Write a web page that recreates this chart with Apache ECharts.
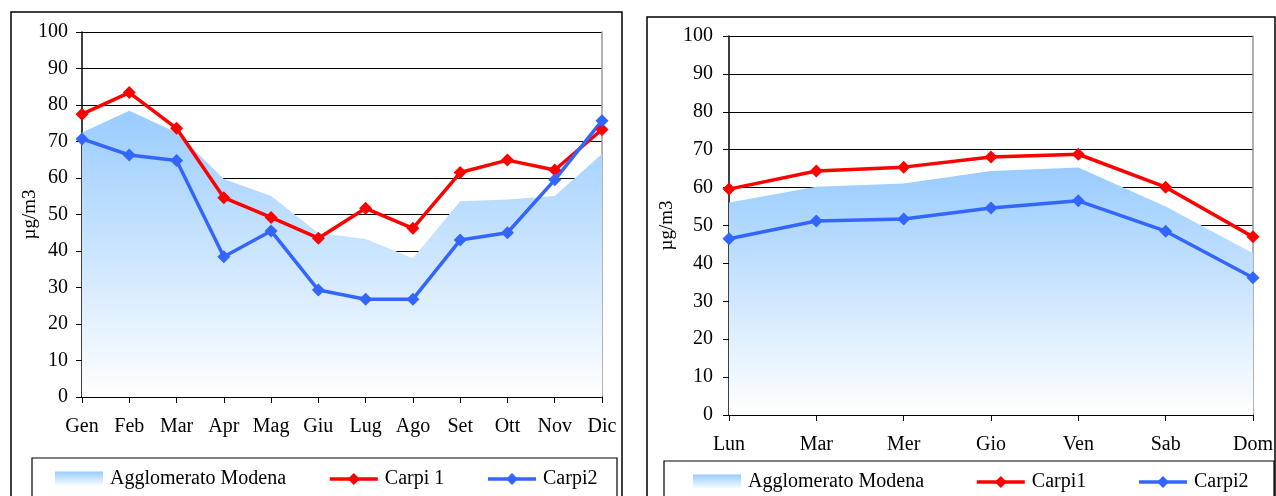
<!DOCTYPE html>
<html>
<head>
<meta charset="utf-8">
<script src="https://cdn.jsdelivr.net/npm/echarts@6/dist/echarts.min.js"></script>
<style>
html,body{margin:0;padding:0;background:#fff;}
#c{width:1276px;height:496px;}
</style>
</head>
<body>
<div id="c"></div>
<script>
// ---- data ----
const months = ['Gen','Feb','Mar','Apr','Mag','Giu','Lug','Ago','Set','Ott','Nov','Dic'];
const monthAgglo = [72.5, 78.4, 72.5, 59.7, 55.1, 44.9, 43.3, 38.0, 53.6, 54.1, 55.1, 66.6];
const monthCarpi1 = [77.5, 83.4, 73.6, 54.6, 49.2, 43.5, 51.7, 46.2, 61.5, 64.9, 62.2, 73.3];
const monthCarpi2 = [70.7, 66.3, 64.8, 38.4, 45.5, 29.3, 26.8, 26.8, 43.0, 45.0, 59.5, 75.7];

const days = ['Lun','Mar','Mer','Gio','Ven','Sab','Dom'];
const dayAgglo = [56.1, 60.2, 61.1, 64.4, 65.3, 55.0, 42.7];
const dayCarpi1 = [59.6, 64.4, 65.4, 68.1, 68.8, 60.1, 47.0];
const dayCarpi2 = [46.5, 51.2, 51.7, 54.6, 56.5, 48.5, 36.2];

const yTicks = {min: 0, max: 100, interval: 10};
const yTitle = 'µg/m3';
const legendLeft = ['Agglomerato Modena', 'Carpi 1', 'Carpi2'];
const legendRight = ['Agglomerato Modena', 'Carpi1', 'Carpi2'];

// ---- styles ----
const FONT = 'Liberation Serif';
const RED = '#FF0000', BLUE = '#3366FF';
const areaGrad = () => new echarts.graphic.LinearGradient(0, 0, 0, 1, [
  {offset: 0, color: '#99CCFF'}, {offset: 1, color: '#FFFFFF'}
]);

function xAx(gi, cats, margin) {
  return {
    type: 'category', gridIndex: gi, data: cats, boundaryGap: false,
    axisLine: {lineStyle: {color: '#000', width: 1.5}},
    axisTick: {show: true, length: 6, lineStyle: {color: '#000'}},
    axisLabel: {color: '#000', fontFamily: FONT, fontSize: 20, margin: margin, interval: 0},
    splitLine: {show: false}
  };
}
function yAx(gi, margin, nameGap) {
  return {
    type: 'value', gridIndex: gi, min: yTicks.min, max: yTicks.max, interval: yTicks.interval,
    name: yTitle, nameLocation: 'middle', nameRotate: 90, nameGap: nameGap,
    nameMoveOverlap: false,
    nameTextStyle: {color: '#000', fontFamily: FONT, fontSize: 19},
    axisLine: {show: true, lineStyle: {color: '#000', width: 1.5}},
    axisTick: {show: true, inside: false, length: 6, lineStyle: {color: '#000'}},
    axisLabel: {color: '#000', fontFamily: FONT, fontSize: 20, margin: margin},
    splitLine: {show: true, lineStyle: {color: '#000', width: 1}}
  };
}
function yRight(gi) {
  return {
    type: 'value', gridIndex: gi, position: 'right', min: yTicks.min, max: yTicks.max,
    axisLine: {show: true, lineStyle: {color: '#999', width: 1.5}},
    axisTick: {show: false}, axisLabel: {show: false}, splitLine: {show: false}
  };
}
function areaS(name, xi, yi, data) {
  return {
    name: name, type: 'line', xAxisIndex: xi, yAxisIndex: yi, data: data,
    symbol: 'none', lineStyle: {width: 0, color: '#99CCFF'},
    itemStyle: {color: '#99CCFF'},
    areaStyle: {color: areaGrad(), opacity: 1}, z: 1, silent: true
  };
}
function lineS(name, xi, yi, data, color) {
  return {
    name: name, type: 'line', xAxisIndex: xi, yAxisIndex: yi, data: data,
    symbol: 'diamond', symbolSize: 13,
    lineStyle: {width: 3.5, color: color}, itemStyle: {color: color}, z: 3
  };
}
function legendCfg(names, left, top, gap) {
  return {
    left: left, top: top, padding: 0, itemGap: gap, itemWidth: 48, itemHeight: 15,
    lineStyle: {width: 3.5},
    textStyle: {color: '#000', fontFamily: FONT, fontSize: 20, padding: [0, 0, 0, 2]},
    selectedMode: false,
    data: names.map((n, i) => i === 0
      ? {name: n, icon: 'rect', itemStyle: {color: areaGrad()}}
      : {name: n})
  };
}

const chart = echarts.init(document.getElementById('c'), null, {renderer: 'canvas'});
chart.setOption({
  backgroundColor: '#fff',
  animation: false,
  grid: [
    {left: 82, top: 32, width: 520, height: 365},
    {left: 729, top: 36, width: 525, height: 379}
  ],
  xAxis: [xAx(0, months, 20), xAx(1, days, 20)],
  yAxis: [yAx(0, 14, 42), yAx(1, 16, 52), yRight(0), yRight(1)],
  legend: [
    legendCfg(legendLeft, 55, 469, 42),
    legendCfg(legendRight, 693, 472, 51)
  ],
  graphic: [
    {type: 'rect', shape: {x: 11, y: 12, width: 611, height: 500}, style: {fill: 'none', stroke: '#000', lineWidth: 1.5}, z: -1},
    {type: 'rect', shape: {x: 32, y: 458, width: 585, height: 60}, style: {fill: 'none', stroke: '#000', lineWidth: 1.2}, z: -1},
    {type: 'rect', shape: {x: 647, y: 17, width: 628, height: 500}, style: {fill: 'none', stroke: '#000', lineWidth: 1.5}, z: -1},
    {type: 'rect', shape: {x: 664, y: 461, width: 610, height: 60}, style: {fill: 'none', stroke: '#000', lineWidth: 1.2}, z: -1}
  ],
  series: [
    areaS('Agglomerato Modena', 0, 0, monthAgglo),
    lineS('Carpi 1', 0, 0, monthCarpi1, RED),
    lineS('Carpi2', 0, 0, monthCarpi2, BLUE),
    areaS('Agglomerato Modena', 1, 1, dayAgglo),
    lineS('Carpi1', 1, 1, dayCarpi1, RED),
    lineS('Carpi2', 1, 1, dayCarpi2, BLUE)
  ]
});
</script>
</body>
</html>
